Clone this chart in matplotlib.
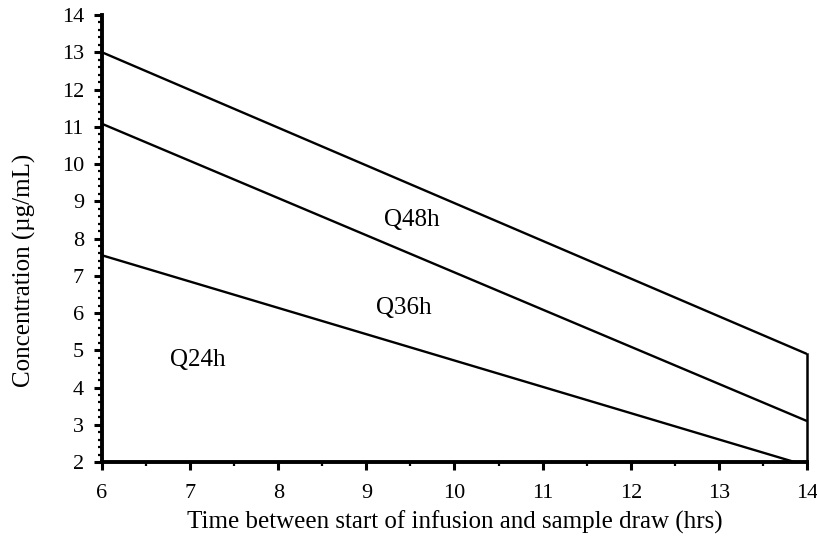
import matplotlib
matplotlib.use("Agg")
import matplotlib.pyplot as plt
from matplotlib.ticker import MultipleLocator

plt.rcParams['font.family'] = ['Liberation Serif', 'DejaVu Serif']

x_vals = [6, 14]
q48_upper = [13.0, 4.9]
q36_upper = [11.08, 3.1]
q24_upper = [7.55, 1.9]
labels = ["Q48h", "Q36h", "Q24h"]
label_x = [9.52, 9.43, 7.09]
label_y = [8.50, 6.13, 4.74]

fig = plt.figure(figsize=(8.17, 5.46), dpi=100)
ax = fig.add_axes([0.1248, 0.1538, 0.863, 0.8187])

for ys in (q48_upper, q36_upper, q24_upper):
    ax.plot(x_vals, ys, color='black', lw=1.7, solid_capstyle='butt')
ax.plot([x_vals[1], x_vals[1]], [2, q48_upper[1]], color='black', lw=1.8,
        clip_on=False)

for t, lx, ly in zip(labels, label_x, label_y):
    ax.text(lx, ly, t, fontsize=18, ha='center', va='center')

ax.set_xlim(6, 14)
ax.set_ylim(2, 14)
ax.xaxis.set_major_locator(MultipleLocator(1))
ax.xaxis.set_minor_locator(MultipleLocator(0.5))
ax.yaxis.set_major_locator(MultipleLocator(1))
ax.yaxis.set_minor_locator(MultipleLocator(0.2))
ax.spines['top'].set_visible(False)
ax.spines['right'].set_visible(False)
ax.spines['left'].set_linewidth(2.8)
ax.spines['bottom'].set_linewidth(2.8)
ax.tick_params(axis='both', which='major', direction='out', length=6, width=2.2, labelsize=16)
ax.tick_params(axis='x', which='major', pad=10)
ax.tick_params(axis='y', which='major', pad=7)
ax.tick_params(axis='both', which='minor', direction='out', length=3, width=1.6)
ax.set_xlabel("Time between start of infusion and sample draw (hrs)", fontsize=18)
ax.set_ylabel("Concentration (\u00b5g/mL)", fontsize=18)
ax.xaxis.set_label_coords(0.5, -0.134)
ax.yaxis.set_label_coords(-0.11, 0.428)
ax.xaxis.label.set_va('center')
ax.yaxis.label.set_va('center')

fig.savefig("out.png", dpi=100)
